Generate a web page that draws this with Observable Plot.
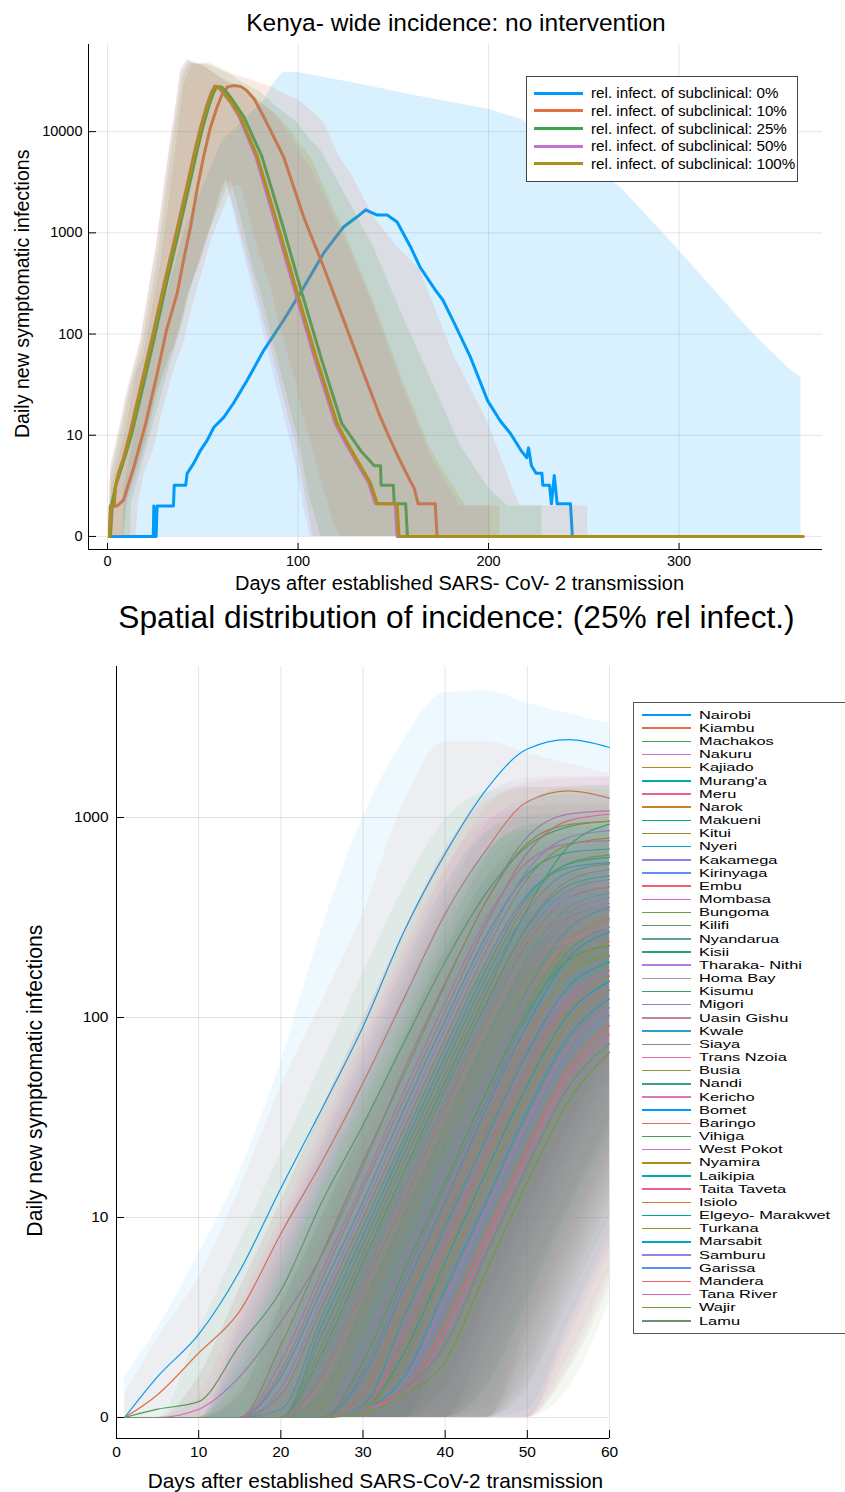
<!DOCTYPE html>
<html><head><meta charset="utf-8">
<script src="https://cdn.jsdelivr.net/npm/d3@7"></script>
<script src="https://cdn.jsdelivr.net/npm/@observablehq/plot@0.6"></script>
<style>
body{margin:0;background:#fff;}
#page{position:relative;width:845px;height:1492px;overflow:hidden;background:#fff;font-family:"Liberation Sans",Arial,Helvetica,sans-serif;color:#000;}
#page div{white-space:nowrap;}
</style></head><body><div id="page"></div>
<script>
// ---------------- TOP CHART DATA ----------------
const scenarios = ["rel. infect. of subclinical: 0%","rel. infect. of subclinical: 10%","rel. infect. of subclinical: 25%","rel. infect. of subclinical: 50%","rel. infect. of subclinical: 100%"];
const scenarioColors = ["#009AFA","#E36F47","#3EA44E","#C371D2","#AC8E18"];
const topXTicks = [0,100,200,300];
const topYTicks = [1,10,100,1000,10000];
const topXDomain = [-10,375.3];
const topYDomain = [0.743,72600];

const lineDays = [
 [1,24,24.3,24.6,25.5,26,34.6,35,41,41.8,45.3,48.8,52.3,55.8,61,66,73.3,82,92.4,103,113.4,124,131,135.6,138,141.6,146.8,152,159,164,172,176,182,190.5,199.5,206,211.5,217,220,221,222.5,225,228,228.5,232,233,234.5,236,243,244,365],
 [1,1.5,2.5,5,8.4,14,20,26.1,31,36.6,40,43.6,47,50.4,54,57.6,60,62.8,66,69.8,73,77,81.9,92.4,102.9,113.4,123.9,134.4,143.3,148.6,153.8,159,161,163,172,173,365],
 [1,1.5,2,4,6,9,12.5,18,25,31,37.2,43,47,50,53,55.5,57.5,60,63,66,71.5,81,91.5,102,112.5,123,133,140,143.3,143.6,150,150.5,156.5,157.4,365],
 [1,1.5,3.5,4,5.7,8.5,11.5,16.8,23.8,29.8,36,41.8,45.8,48.8,51.8,54.3,56.3,58.5,61.5,64.5,69,77.8,88,98.6,109,119.6,124,130,137,140.6,151,152,365],
 [1,1.5,3.5,4,5.7,8.5,11.7,17,24,30,36.2,42,46,49,52,54.5,56.5,59,62,65,69.8,78.6,89,99.6,110,120.6,125,131,138,141.6,152,153,365]
];
const lineCases = [
 [0,0,2,0,0,2,2,3.2,3.2,4.2,5.3,7.1,8.9,12,15,20.6,35,69,137,290,630,1150,1440,1690,1600,1500,1500,1280,730,460,273,217,128,59,22,14,10.4,7.1,6,7.5,5,4.2,4.2,3.2,3.2,2.1,4,2.1,2.1,0,0],
 [0,0,2,2,2.3,5,13,41,110,255,550,1150,2700,5650,11000,17700,23000,27500,28500,28000,25500,21000,14100,5650,1440,460,138,41,15,8.9,5.5,3.5,3,2.1,2.1,0,0],
 [0,0,2,3,4,6,10,27,100,320,1000,3000,6500,11000,17500,24000,28000,27500,24000,20000,14100,5700,1260,255,55,13,7,5,5,3.2,3.2,2.1,2.1,0,0],
 [0,2,2,3,4.2,6,10,27,100,320,1000,3000,6500,11000,17500,24000,28200,27000,23000,19500,14100,5700,1260,255,55,13,9,5.7,3.4,2.1,2.1,0,0],
 [0,2,2,3,4.2,6,10,27,100,320,1000,3000,6500,11000,17500,24000,28000,27000,23000,19500,14100,5700,1260,255,55,13,9,5.7,3.4,2.1,2.1,0,0]
];
const bandDays = [
 [8,8.5,20,40,60,75,82,86,92,100,130,164,200,218,243,269,295,322,339,357,364],
 [1,2,10,15,16,19,25,28,35,40,44,52.3,55,66,69.8,70,80,85.6,90,99.6,100,110,113.4,118,122,127.6,139.6,152,164,182,200,213,217,252],
 [1,2,9,12,12.5,18,25,27,34,39.5,43,52,55,64,65,68,78,80,88,98,100,106,112,113,127,140,155,170,185,200,210,228],
 [1,1.6,8,8.4,10.3,17.3,20,26,33,34.8,38.3,41.8,50,60,62,69.8,70,78.6,85,87,96,100,103,106.6,113,127,140,155,170,185,200,201],
 [1,1.6,8,8.4,10.3,17.3,20,26,33,34.8,38.5,42,50,60,62.5,70,79,88,97,100,104,108,113,127,140,155,170,188,205,206]
];
const bandLow = [
 [0,0,0,0,0,0,0,0,0,0,0,0,0,0,0,0,0,0,0,0,0],
 [0,0,0,0,2,4,8,15,45,80,170,600,900,2900,2900,2900,600,300,130,30,25,5,3,1.5,0,0,0,0,0,0,0,0,0,0],
 [0,0,0,0,2.1,5,15,20,60,130,250,900,1200,3200,3200,2000,350,280,70,13,10,2.5,0,0,0,0,0,0,0,0,0,0],
 [0,0,0,0,2.1,5.5,8,25,60,69,120,230,600,2800,3400,850,830,185,60,41,8.9,4,1.9,0,0,0,0,0,0,0,0,0],
 [0,0,0,0,2.3,6,9,27,65,75,125,240,620,2600,3300,1000,230,50,11,7,2.5,0,0,0,0,0,0,0,0,0]
];
const bandHigh = [
 [0,3,40,1000,8000,15000,20000,28000,38700,38400,30000,22200,16600,13000,6200,2860,850,230,100,47,37],
 [1,3,12,40,45,60,250,500,5000,28000,45000,48000,46000,37000,35000,35000,30000,28000,25000,20700,20500,14500,12300,8000,5500,3900,1440,730,430,60,13,2.85,2,2],
 [1.5,4,15,30,32,70,400,700,7000,35000,48000,46000,44000,37000,36000,33000,26000,25000,18000,13000,12000,8500,6500,6000,2000,700,150,35,8,3,2,2],
 [2,4.8,17,19,28,87,180,850,8300,13000,41000,51600,45000,33000,31000,26500,26000,20000,16500,15500,9000,7000,5500,4300,2500,700,180,30,6,2,2,2],
 [2,4.5,15,17,25,80,165,780,7500,12000,38000,50000,45000,34000,32000,27000,21000,15000,10000,8000,6500,5000,3000,800,200,35,7,2,2,2]
];

// ---------------- BOTTOM CHART DATA ----------------
const counties = ["Nairobi","Kiambu","Machakos","Nakuru","Kajiado","Murang'a","Meru","Narok","Makueni","Kitui","Nyeri","Kakamega","Kirinyaga","Embu","Mombasa","Bungoma","Kilifi","Nyandarua","Kisii","Tharaka- Nithi","Homa Bay","Kisumu","Migori","Uasin Gishu","Kwale","Siaya","Trans Nzoia","Busia","Nandi","Kericho","Bomet","Baringo","Vihiga","West Pokot","Nyamira","Laikipia","Taita Taveta","Isiolo","Elgeyo- Marakwet","Turkana","Marsabit","Samburu","Garissa","Mandera","Tana River","Wajir","Lamu"];
const palette = ["#009AFA","#E36F47","#3EA44E","#C371D2","#AC8E18","#00AAAE","#ED5E93","#C68225","#00A98D","#8E971D","#00A8CB","#9B7FE9","#618DF6","#F0616F","#DD64B5","#6B9E3A","#6F8F72","#5DA19C","#2A9F80","#B17BE8","#A0A0A0","#3CA064","#7E8EBA","#BB898E","#2E9FC8","#7B8FA3","#EC6A9E","#A28F30","#3F9E87","#D97AAE"];
const days = [1,5,10,15,20,25,30,35,40,45,50,55,60];
const botXTicks = [0,10,20,30,40,50,60];
const botYTicks = [1,10,100,1000];
const botXDomain = [0,60];
const botYDomain = [0.785,5690];

const cases = [
 [0,1.6,2.6,5.4,14,35,90,270,660,1380,2200,2450,2240],
 [0,1.3,2.1,3.4,8.3,19,47,125,330,690,1200,1360,1250],
 [0,1.1,1.2,2.3,4.3,12,29,75,190,420,720,900,960],
 [0,1,1.1,1.6,3,6.5,18,55,150,380,800,1040,1080],
 [0,0,0,0.8,2.3,6.6,19,52,146,382,743,922,955],
 [0,0,0,0.5,1.6,4.4,12,35,97,256,520,667,696],
 [0,0,0,0.6,1.7,4.9,14,39,107,293,666,964,1038],
 [0,0,0,0,0.7,1.9,5.4,15,43,117,290,483,548],
 [0,0,0,0.4,1,2.9,8.1,23,64,175,400,585,632],
 [0,0,0,0.4,1.3,3.6,10,28,79,216,495,729,790],
 [0,0,0,0.4,1.1,3.2,9,25,71,191,413,562,595],
 [0,0,0,0.5,1.4,3.9,11,31,88,238,545,796,860],
 [0,0,0,0,0.6,1.7,4.9,14,38,106,260,432,490],
 [0,0,0,0,0.5,1.6,4.4,12,35,96,236,396,450],
 [0,0,0,0.7,1.9,5.4,15,43,119,310,599,740,766],
 [0,0,0,0.3,0.9,2.6,7.3,21,58,159,378,589,650],
 [0,0,0,0.3,0.8,2.3,6.6,19,52,144,341,531,586],
 [0,0,0,0,0.4,1.3,3.6,10,28,78,199,355,418],
 [0,0,0,0.2,0.7,1.9,5.4,15,43,117,284,457,510],
 [0,0,0,0,0.4,1,2.9,8.1,23,64,164,308,372],
 [0,0,0,0,0.5,1.4,3.9,11,31,87,221,399,471],
 [0,0,0,0.3,0.8,2.1,6,17,48,132,351,717,927],
 [0,0,0,0,0.4,1.1,3.2,9,25,71,181,333,397],
 [0,0,0,0.2,0.7,1.9,5.4,15,42,113,242,324,342],
 [0,0,0,0,0.3,0.8,2.3,6.6,19,52,137,277,353],
 [0,0,0,0,0.4,1.3,3.6,10,28,78,191,316,358],
 [0,0,0,0,0.3,0.7,2.1,6,17,47,123,242,303],
 [0,0,0,0,0.2,0.7,1.9,5.4,15,43,113,236,312],
 [0,0,0,0,0.2,0.6,1.7,4.9,14,38,102,214,283],
 [0,0,0,0,0.3,0.8,2.3,6.6,19,52,132,238,282],
 [0,0,0,0,0.2,0.5,1.6,4.4,12,35,92,198,268],
 [0,0,0,0,0.2,0.4,1.3,3.6,10,28,76,170,240],
 [0,0,0,0,0.2,0.7,1.9,5.4,15,42,107,194,229],
 [0,0,0,0,0,0.4,1.1,2.9,8.1,23,62,140,202],
 [0,0,0,0,0.2,0.5,1.4,3.9,11,31,82,163,205],
 [0,0,0,0,0.1,0.4,1.15,3.2,9,25,67,142,189],
 [0,0,0,0,0,0.3,1.1,2.6,7.3,21,55,123,172],
 [0,0,0,0,0,0.3,1.1,2.3,6.6,19,50,113,161],
 [0,0,0,0,0,0.2,1.1,2.1,6,17,46,104,152],
 [0,0,0,0,0,0.2,1.1,1.9,5.4,15,41,94,137],
 [0,0,0,0,0,0.2,1.1,1.6,4.4,12,34,80,124],
 [0,0,0,0,0,0.1,1.1,1.5,3.9,11,30,72,112],
 [0,0,0,0,0,0.1,1.1,1.4,3.6,10,27,65,102],
 [0,0,0,0,0,0,1.1,1.4,2.9,8.1,22,55,91],
 [0,0,0,0,0,0,1.1,1.3,2.6,7.3,20,50,82],
 [0,0,0,0,0,0,1.05,1.3,1.9,5.4,15,38,67],
 [0,0,0,0,0,0,1.1,1.4,2.3,6.6,18,45,74]
];
const upper = [
 [1.6,2.8,6.6,17,60,280,1000,2450,4200,4300,3730,3300,2950],
 [1.3,2.5,5,14,45,120,330,1200,2400,2400,2100,1850,1660],
 [0.4,0.9,2.7,7.5,21,59,166,449,977,1345,1420,1400,1380],
 [0.2,0.6,1.6,4.4,12,35,98,271,700,1302,1567,1600,1600],
 [0.2,0.6,1.6,4.4,12,35,98,270,683,1203,1402,1435,1440],
 [0.2,0.4,1,2.9,8.1,23,65,179,461,849,1017,1048,1050],
 [0.2,0.4,1.1,3.2,9,25,72,200,535,1123,1487,1563,1575],
 [0.1,0.2,0.5,1.3,3.6,10,28,79,216,504,760,828,840],
 [0.1,0.2,0.7,1.9,5.4,15,43,119,320,677,904,951,960],
 [0.1,0.3,0.8,2.3,6.6,19,52,147,394,840,1128,1190,1200],
 [0.1,0.3,0.8,2.1,6,17,48,132,347,686,862,895,900],
 [0.1,0.3,0.9,2.6,7.3,21,58,163,436,922,1229,1295,1305],
 [0.1,0.1,0.4,1.1,3.2,9,25,72,195,453,679,740,750],
 [0.1,0.1,0.4,1,2.9,8.1,23,65,176,412,623,680,690],
 [0.2,0.5,1.3,3.6,10,28,79,220,554,969,1125,1150,1155],
 [0.1,0.2,0.6,1.7,4.9,14,39,107,292,650,917,980,990],
 [0.1,0.2,0.6,1.6,4.4,12,35,97,263,586,827,884,893],
 [0,0.1,0.3,0.8,2.3,6.6,19,52,144,350,565,633,645],
 [0.1,0.2,0.5,1.3,3.6,10,28,79,215,490,714,771,780],
 [0,0.1,0.2,0.7,1.9,5.4,15,43,117,292,494,565,578],
 [0.1,0.1,0.3,0.9,2.6,7.3,21,58,160,390,635,714,728],
 [0.1,0.2,0.5,1.4,3.9,11,31,88,245,631,1175,1415,1455],
 [0,0.1,0.3,0.8,2.1,6,17,48,130,321,532,602,615],
 [0.1,0.2,0.5,1.3,3.6,10,28,79,206,400,497,515,518],
 [0,0.1,0.2,0.6,1.6,4.4,12,35,96,244,438,515,530],
 [0,0.1,0.3,0.8,2.3,6.6,19,52,143,332,497,541,548],
 [0,0.1,0.2,0.5,1.4,3.9,11,31,87,220,392,461,474],
 [0,0.1,0.2,0.5,1.3,3.6,10,28,78,204,389,477,495],
 [0,0,0.1,0.4,1.1,3.2,9,25,71,184,353,433,450],
 [0,0.1,0.2,0.6,1.6,4.4,12,35,95,232,379,427,435],
 [0,0,0.1,0.4,1,2.9,8.1,23,64,167,329,410,428],
 [0,0,0.1,0.3,0.8,2.3,6.6,19,52,138,285,370,390],
 [0,0.1,0.2,0.5,1.3,3.6,10,28,78,189,309,347,354],
 [0,0,0.1,0.2,0.7,1.9,5.4,15,43,113,236,312,330],
 [0,0,0.1,0.3,0.9,2.6,7.3,21,58,146,265,313,323],
 [0,0,0.1,0.3,0.8,2.1,6,17,47,120,227,274,284],
 [0,0,0.1,0.2,0.6,1.7,4.9,14,38,101,205,265,278],
 [0,0,0,0.2,0.6,1.6,4.4,12,35,92,190,249,263],
 [0,0,0,0.2,0.5,1.4,3.9,11,31,83,176,235,249],
 [0,0,0,0.2,0.5,1.3,3.6,10,28,75,159,212,225],
 [0,0,0,0.1,0.4,1,2.9,8.1,23,62,137,194,209],
 [0,0,0,0.1,0.3,0.9,2.6,7.3,21,55,124,174,188],
 [0,0,0,0.1,0.3,0.8,2.3,6.6,19,50,112,160,173],
 [0,0,0,0.1,0.2,0.7,1.9,5.4,15,41,96,143,158],
 [0,0,0,0.1,0.2,0.6,1.7,4.9,14,37,86,129,143],
 [0,0,0,0,0.2,0.5,1.3,3.6,10,28,66,106,120],
 [0,0,0,0,0.2,0.6,1.6,4.4,12,35,78,116,128]
];
const lower = [
 [0,0,0,0,0,0,0,0,22,68,165,345,550],
 [0,0,0,0,0,0,0,0,12,31,83,173,300],
 [0,0,0,0,0,0,0,0,7,19,48,105,180],
 [0,0,0,0,0,0,0,0,4.5,14,38,95,200],
 [0,0,0,0,0,0,0,0,4.8,13,37,96,186],
 [0,0,0,0,0,0,0,0,3,8.8,24,64,130],
 [0,0,0,0,0,0,0,0,3.5,9.8,27,73,167],
 [0,0,0,0,0,0,0,0,1.4,3.8,11,29,73],
 [0,0,0,0,0,0,0,0,2,5.8,16,44,100],
 [0,0,0,0,0,0,0,0,2.5,7,20,54,124],
 [0,0,0,0,0,0,0,0,2.3,6.3,18,48,103],
 [0,0,0,0,0,0,0,0,2.8,7.8,22,60,136],
 [0,0,0,0,0,0,0,0,1.2,3.5,9.5,27,65],
 [0,0,0,0,0,0,0,0,1.1,3,8.8,24,59],
 [0,0,0,0,0,0,0,0,3.8,11,30,78,150],
 [0,0,0,0,0,0,0,0,1.8,5.3,15,40,95],
 [0,0,0,0,0,0,0,0,1.7,4.8,13,36,85],
 [0,0,0,0,0,0,0,0,0.9,2.5,7,20,50],
 [0,0,0,0,0,0,0,0,1.4,3.8,11,29,71],
 [0,0,0,0,0,0,0,0,0.7,2,5.8,16,41],
 [0,0,0,0,0,0,0,0,1,2.8,7.8,22,55],
 [0,0,0,0,0,0,0,0,1.5,4.3,12,33,88],
 [0,0,0,0,0,0,0,0,0.8,2.3,6.3,18,45],
 [0,0,0,0,0,0,0,0,1.4,3.8,11,28,61],
 [0,0,0,0,0,0,0,0,0.6,1.7,4.8,13,34],
 [0,0,0,0,0,0,0,0,0.9,2.5,7,20,48],
 [0,0,0,0,0,0,0,0,0.5,1.5,4.3,12,31],
 [0,0,0,0,0,0,0,0,0.5,1.4,3.8,11,28],
 [0,0,0,0,0,0,0,0,0.4,1.2,3.5,9.5,26],
 [0,0,0,0,0,0,0,0,0.6,1.7,4.8,13,33],
 [0,0,0,0,0,0,0,0,0.4,1.1,3,8.8,23],
 [0,0,0,0,0,0,0,0,0.3,0.9,2.5,7,19],
 [0,0,0,0,0,0,0,0,0.5,1.4,3.8,11,27],
 [0,0,0,0,0,0,0,0,0.3,0.7,2,5.8,16],
 [0,0,0,0,0,0,0,0,0.4,1,2.8,7.8,21],
 [0,0,0,0,0,0,0,0,0.3,0.8,2.3,6.3,17],
 [0,0,0,0,0,0,0,0,0.2,0.7,1.8,5.3,14],
 [0,0,0,0,0,0,0,0,0.2,0.6,1.7,4.8,13],
 [0,0,0,0,0,0,0,0,0.2,0.5,1.5,4.3,12],
 [0,0,0,0,0,0,0,0,0.2,0.5,1.4,3.8,10],
 [0,0,0,0,0,0,0,0,0.1,0.4,1.1,3,8.5],
 [0,0,0,0,0,0,0,0,0.1,0.4,1,2.8,7.5],
 [0,0,0,0,0,0,0,0,0.1,0.3,0.9,2.5,6.8],
 [0,0,0,0,0,0,0,0,0.1,0.3,0.7,2,5.5],
 [0,0,0,0,0,0,0,0,0.1,0.2,0.7,1.8,5],
 [0,0,0,0,0,0,0,0,0,0.2,0.5,1.4,3.8],
 [0,0,0,0,0,0,0,0,0.1,0.2,0.6,1.7,4.5]
];

// ---------------- RENDERING ----------------
const FONT = '"Liberation Sans", Arial, Helvetica, sans-serif';
const page = document.getElementById("page");
const floor1 = v => Math.max(v, 1);   // zero counts are shown on the "0" line
const fmt = d => d === 1 ? "0" : String(d);

function place(el, css) { Object.assign(el.style, {position:"absolute"}, css); page.appendChild(el); return el; }
function text(str, css) { const d = document.createElement("div"); d.textContent = str; return place(d, css); }
function centerText(str, cx, cy, fs) {
  return text(str, {left:(cx-500)+"px", width:"1000px", textAlign:"center", top:(cy-0.49*fs)+"px", fontSize:fs+"px", lineHeight:fs+"px"});
}
function vText(str, cx, cy, fs) {
  return text(str, {left:(cx-500)+"px", width:"1000px", textAlign:"center", top:(cy-fs/2)+"px", fontSize:fs+"px", lineHeight:fs+"px", transform:"rotate(-90deg)"});
}
// left-aligned label centred vertically on cy; sy squeezes it vertically so that stacked labels do not collide
function leftText(str, x, cy, fs, lh, sy) {
  return text(str, {left:x+"px", top:(cy - lh/2 + 0.0115*fs)+"px", fontSize:fs+"px", lineHeight:lh+"px", height:lh+"px",
    transform:`scaleY(${sy})`, transformOrigin:"left center"});
}

// Top chart
const topMarks = [
  Plot.gridX(topXTicks, {stroke:"#000", strokeOpacity:0.1}),
  Plot.gridY(topYTicks, {stroke:"#000", strokeOpacity:0.1})
];
scenarios.forEach((s, i) => {
  const band = bandDays[i].map((d, j) => ({day:d, lo:bandLow[i][j], hi:bandHigh[i][j]}));
  const line = lineDays[i].map((d, j) => ({day:d, v:lineCases[i][j]}));
  topMarks.push(Plot.areaY(band, {x:"day", y1:d => floor1(d.lo), y2:d => floor1(d.hi), fill:scenarioColors[i], fillOpacity:0.15}));
  topMarks.push(Plot.line(line, {x:"day", y:d => floor1(d.v), stroke:scenarioColors[i], strokeWidth:3, strokeLinejoin:"round"}));
});
topMarks.push(
  Plot.ruleX([topXDomain[0]], {stroke:"#000"}),
  Plot.ruleY([topYDomain[0]], {stroke:"#000"}),
  Plot.axisX(topXTicks, {tickSize:-6, tickPadding:12, label:null, tickFormat:d => String(d)}),
  Plot.axisY(topYTicks, {tickSize:-8, tickPadding:14, label:null, tickFormat:fmt})
);
const topSvg = Plot.plot({
  width:845, height:600, marginTop:44, marginBottom:51, marginLeft:88, marginRight:23,
  x:{domain:topXDomain}, y:{type:"log", domain:topYDomain},
  style:{fontFamily:FONT, fontSize:"14.5px", background:"transparent", color:"#000"},
  marks:topMarks
});
place(topSvg, {left:"0px", top:"0px"});

// Bottom chart
const botMarks = [
  Plot.gridX(botXTicks, {stroke:"#000", strokeOpacity:0.1}),
  Plot.gridY(botYTicks, {stroke:"#000", strokeOpacity:0.1})
];
counties.forEach((c, i) => {
  const rows = days.map((d, j) => ({day:d, v:cases[i][j], lo:lower[i][j], hi:upper[i][j]}));
  const col = palette[i % palette.length];
  botMarks.push(Plot.areaY(rows, {x:"day", y1:d => floor1(d.lo), y2:d => floor1(d.hi), fill:col, fillOpacity:0.07, curve:"monotone-x"}));
  botMarks.push(Plot.line(rows, {x:"day", y:d => floor1(d.v), stroke:col, strokeWidth:1.2, curve:"monotone-x"}));
});
botMarks.push(
  Plot.ruleX([botXDomain[0]], {stroke:"#000"}),
  Plot.ruleY([botYDomain[0]], {stroke:"#000"}),
  Plot.axisX(botXTicks, {tickSize:-8, tickPadding:15, label:null, tickFormat:d => String(d)}),
  Plot.axisY(botYTicks, {tickSize:-8, tickPadding:16, label:null, tickFormat:fmt})
);
const botSvg = Plot.plot({
  width:845, height:852, marginTop:26, marginBottom:54, marginLeft:116, marginRight:236,
  x:{domain:botXDomain}, y:{type:"log", domain:botYDomain},
  style:{fontFamily:FONT, fontSize:"15.5px", background:"transparent", color:"#000"},
  marks:botMarks
});
place(botSvg, {left:"0px", top:"640px"});

// Titles and axis labels
centerText("Kenya- wide incidence: no intervention", 456, 23, 24.5);
centerText("Days after established SARS- CoV- 2 transmission", 459.5, 583, 20);
vText("Daily new symptomatic infections", 23, 294, 19.6);
centerText("Spatial distribution of incidence: (25% rel infect.)", 456.5, 618, 31.7);
centerText("Days after established SARS-CoV-2 transmission", 375.5, 1481, 20.8);
vText("Daily new symptomatic infections", 35, 1081, 21.2);

// Top legend
place(document.createElement("div"), {left:"526px", top:"76px", width:"270px", height:"104px", border:"1px solid #444", background:"#fff"});
scenarios.forEach((s, i) => {
  const cy = 93.3 + i * 17.65;
  place(document.createElement("div"), {left:"534px", top:(cy-1.5)+"px", width:"49px", height:"3px", background:scenarioColors[i]});
  leftText(s, 591, cy, 15.2, 16, 1);
});

// Bottom legend
place(document.createElement("div"), {left:"633px", top:"702px", width:"230px", height:"630px", border:"1px solid #555", background:"#fff"});
counties.forEach((c, i) => {
  const cy = 715 + i * 13.17;
  place(document.createElement("div"), {left:"642px", top:(cy-0.75)+"px", width:"49px", height:"1.5px", background:palette[i % palette.length]});
  leftText(c, 699, cy, 16.4, 13, 0.69);
});
</script></body></html>
